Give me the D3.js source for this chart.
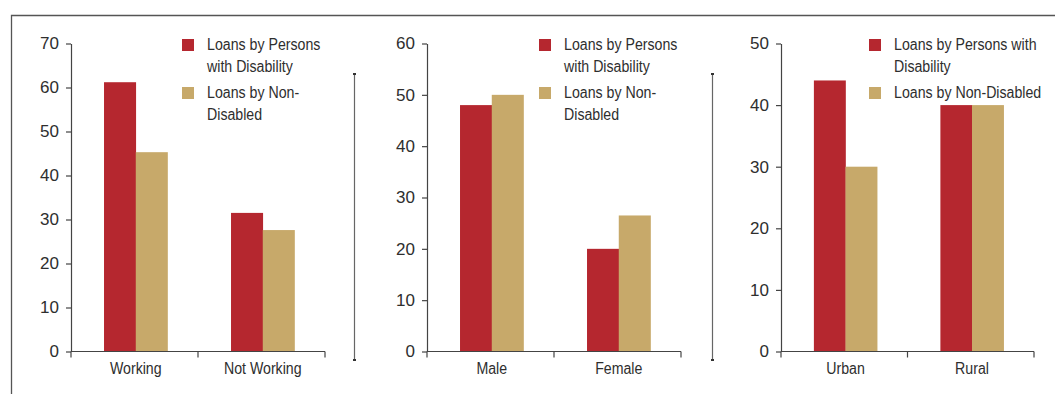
<!DOCTYPE html>
<html><head><meta charset="utf-8">
<script src="https://cdn.jsdelivr.net/npm/d3@7"></script>
<style>
html,body{margin:0;padding:0;background:#fff;}
svg{display:block;}
.t{font-family:"Liberation Sans","Arial",sans-serif;fill:#2e2e2e;}
.tick text{font-family:"Liberation Sans","Arial",sans-serif;fill:#2e2e2e;}
</style></head>
<body>
<svg id="c" width="1055" height="394"></svg>
<script>
// ---- data ----
const seriesNames = ["Loans by Persons with Disability", "Loans by Non-Disabled"];
const seriesColors = ["#b5272f", "#c7a96a"];

const workCategories = ["Working", "Not Working"];
const workDisabled = [61.2, 31.5];
const workNonDisabled = [45.3, 27.6];
const workTicks = [0, 10, 20, 30, 40, 50, 60, 70];

const genderCategories = ["Male", "Female"];
const genderDisabled = [48, 20];
const genderNonDisabled = [50, 26.5];
const genderTicks = [0, 10, 20, 30, 40, 50, 60];

const areaCategories = ["Urban", "Rural"];
const areaDisabled = [44, 40];
const areaNonDisabled = [30, 40];
const areaTicks = [0, 10, 20, 30, 40, 50];

const legendWrapNarrow = [["Loans by Persons", "with Disability"], ["Loans by Non-", "Disabled"]];
const legendWrapWide = [["Loans by Persons with", "Disability"], ["Loans by Non-Disabled"]];

// ---- layout ----
const panels = [
  {cats: workCategories, s: [workDisabled, workNonDisabled], ticks: workTicks, x0: 71, x1: 325, legendX: 182, wrap: legendWrapNarrow},
  {cats: genderCategories, s: [genderDisabled, genderNonDisabled], ticks: genderTicks, x0: 427, x1: 681, legendX: 539, wrap: legendWrapNarrow},
  {cats: areaCategories, s: [areaDisabled, areaNonDisabled], ticks: areaTicks, x0: 781, x1: 1034, legendX: 869, wrap: legendWrapWide}
];
const yBottom = 351.5, yTop = 43.5;
const axisColor = "#444";
const condense = 0.82;

const svg = d3.select("#c");

function condText(parent, x, y, str, anchor) {
  return parent.append("text").attr("class", "t")
    .attr("transform", `translate(${x},${y}) scale(${condense},1)`)
    .attr("text-anchor", anchor || "start")
    .attr("font-size", 17.3)
    .text(str);
}

// frame
svg.append("path").attr("d", "M11.5,394V15.5H1055").attr("fill", "none").attr("stroke", "#555").attr("stroke-width", 1.3);

// separators
[354.5, 712.5].forEach(x => {
  const g = svg.append("g");
  g.append("line").attr("x1", x).attr("x2", x).attr("y1", 74).attr("y2", 360).attr("stroke", "#666").attr("stroke-width", 1.2);
  g.append("rect").attr("x", x - 1.5).attr("y", 73).attr("width", 3).attr("height", 2).attr("fill", "#333");
  g.append("rect").attr("x", x - 1.5).attr("y", 359).attr("width", 3).attr("height", 2).attr("fill", "#333");
});

panels.forEach(p => {
  const g = svg.append("g");
  const maxV = p.ticks[p.ticks.length - 1];
  const y = d3.scaleLinear().domain([0, maxV]).range([yBottom, yTop]);
  const x = d3.scaleBand().domain(p.cats).range([p.x0, p.x1]).paddingInner(0).paddingOuter(0);
  const inner = d3.scaleBand().domain(d3.range(p.s.length)).range([0, x.bandwidth() * 0.5]).padding(0);
  const offset = x.bandwidth() * 0.26;

  // bars
  p.s.forEach((vals, si) => {
    g.selectAll(null).data(p.cats).enter().append("rect")
      .attr("x", c => x(c) + offset + inner(si))
      .attr("y", (c, i) => y(vals[i]))
      .attr("width", inner.bandwidth() + 0.3)
      .attr("height", (c, i) => yBottom - y(vals[i]))
      .attr("fill", seriesColors[si]);
  });

  // y axis
  const ya = g.append("g").attr("transform", `translate(${p.x0},0)`)
    .call(d3.axisLeft(y).tickValues(p.ticks).tickSize(5).tickSizeOuter(0).tickPadding(7).tickFormat(d3.format("d")));
  ya.select(".domain").attr("stroke", axisColor).attr("stroke-width", 1.2);
  ya.selectAll(".tick line").attr("stroke", axisColor).attr("stroke-width", 1.2);
  ya.selectAll(".tick text").attr("font-size", 17).attr("fill", "#2e2e2e");

  // x axis
  const xa = g.append("g");
  xa.append("line").attr("x1", p.x0).attr("x2", p.x1).attr("y1", yBottom).attr("y2", yBottom).attr("stroke", axisColor).attr("stroke-width", 1.2);
  const bounds = p.cats.map(c => x(c)).concat([p.x1]);
  xa.selectAll(null).data(bounds).enter().append("line")
    .attr("x1", d => d).attr("x2", d => d).attr("y1", yBottom).attr("y2", yBottom + 6)
    .attr("stroke", axisColor).attr("stroke-width", 1.2);
  p.cats.forEach(c => condText(xa, x(c) + offset + x.bandwidth() * 0.25, 374, c, "middle"));

  // legend
  const itemY = [37.5, 85.5];
  seriesNames.forEach((name, si) => {
    g.append("rect").attr("x", p.legendX).attr("y", itemY[si] + 1.5).attr("width", 12).attr("height", 12).attr("fill", seriesColors[si]);
    p.wrap[si].forEach((line, li) => condText(g, p.legendX + 25, itemY[si] + 12.5 + li * 21.7, line));
  });
});
</script>
</body></html>
